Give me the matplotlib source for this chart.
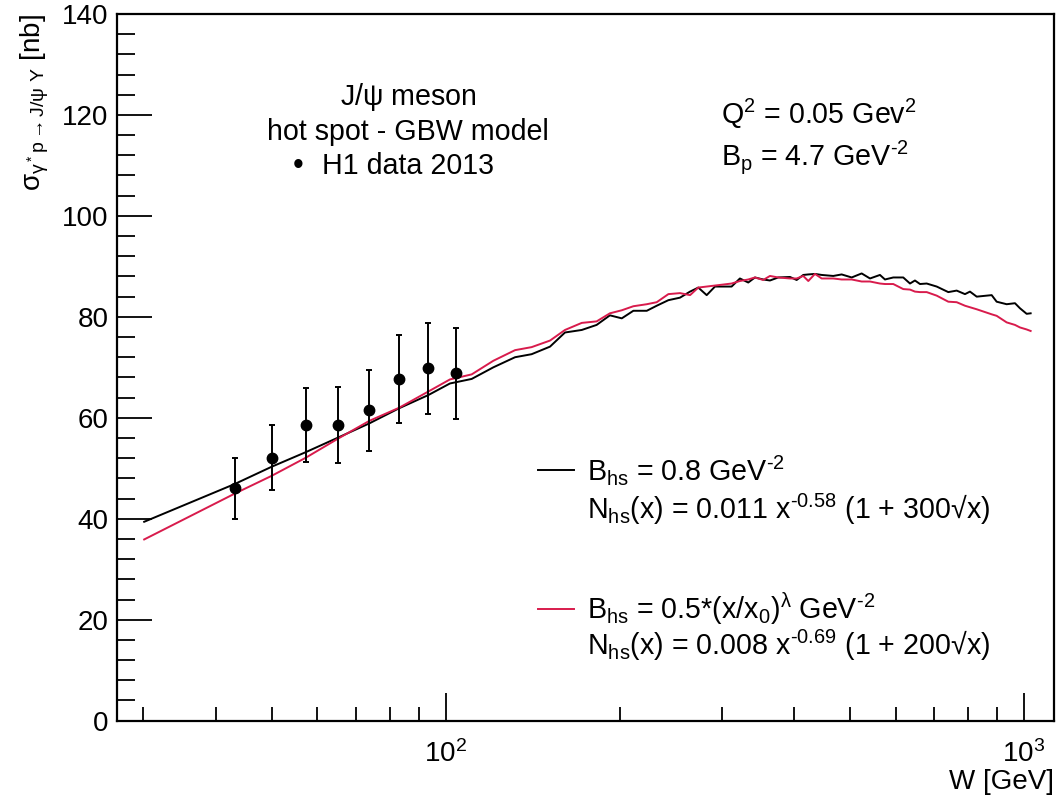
import numpy as np
import matplotlib
matplotlib.use("Agg")
import matplotlib.pyplot as plt
from matplotlib.ticker import MultipleLocator, LogLocator, NullFormatter

plt.rcParams['font.family'] = ['Liberation Sans', 'DejaVu Sans']
plt.rcParams['mathtext.fontset'] = 'custom'
plt.rcParams['mathtext.rm'] = 'Liberation Sans'
plt.rcParams['mathtext.it'] = 'Liberation Sans'
plt.rcParams['mathtext.bf'] = 'Liberation Sans:bold'
plt.rcParams['mathtext.sf'] = 'Liberation Sans'

# ---- data ----
h1_W = [43.2, 50.0, 57.3, 65.2, 73.8, 83.1, 93.3, 104.2]
h1_sigma = [46.0, 52.1, 58.6, 58.6, 61.5, 67.7, 69.8, 68.8]
h1_err_up = [6.0, 6.5, 7.4, 7.6, 8.0, 8.7, 9.0, 9.0]
h1_err_dn = [6.0, 6.5, 7.4, 7.5, 8.0, 8.7, 9.0, 9.0]

model_W = [30.1, 43.2, 50.0, 57.3, 65.2, 73.8, 83.1, 93.3, 101.7, 110.9,
           120.9, 131.8, 140.8, 151.5, 160.8, 171.9, 182.4, 192.3, 201.6, 211.1,
           222.7, 231.7, 242.7, 254.2, 264.6, 273.4, 282.7, 292.2, 312.2, 322.7,
           333.6, 342.6, 354.1, 363.7, 375.9, 393.9, 404.5, 415.3, 423.7, 435.1,
           446.9, 468.0, 483.9, 503.6, 524.0, 541.7, 563.6, 575.0, 594.3, 618.4,
           635.2, 647.9, 661.0, 678.9, 706.5, 739.9, 765.0, 790.7, 806.6, 828.5,
           879.4, 897.0, 933.5, 964.9, 984.2, 1010.8, 1027.0]
sigma_const_B = [39.4, 46.9, 50.3, 53.2, 56.1, 58.9, 61.9, 64.5, 66.8, 67.7,
                 70.0, 72.0, 72.6, 74.1, 76.9, 77.4, 78.4, 80.3, 79.7, 81.2,
                 81.2, 82.2, 83.3, 83.8, 85.0, 85.8, 84.3, 86.0, 86.0, 87.6,
                 86.8, 87.8, 87.4, 87.2, 87.8, 87.9, 87.3, 88.3, 88.4, 88.5,
                 88.3, 88.1, 88.4, 87.8, 88.6, 87.6, 88.3, 87.4, 87.8, 87.8,
                 86.6, 87.2, 86.5, 86.6, 86.0, 84.9, 85.2, 84.5, 85.0, 84.0,
                 84.3, 83.0, 82.5, 82.7, 81.7, 80.6, 80.7]
sigma_var_B = [35.9, 45.0, 48.5, 52.1, 55.9, 59.4, 62.0, 65.2, 67.6, 68.6,
               71.3, 73.4, 74.0, 75.3, 77.4, 78.8, 79.1, 80.7, 81.3, 82.1,
               82.5, 82.9, 84.5, 84.7, 84.3, 85.8, 86.0, 86.2, 86.6, 87.1,
               87.4, 87.8, 87.3, 88.1, 87.8, 87.6, 87.6, 88.1, 87.1, 88.5,
               87.6, 87.6, 87.4, 87.4, 87.0, 87.0, 86.6, 86.5, 86.5, 85.5,
               85.4, 85.0, 84.9, 84.9, 84.2, 83.0, 82.9, 82.2, 81.9, 81.5,
               80.5, 80.2, 78.9, 78.4, 77.9, 77.5, 77.2]

RED = '#d81b4c'
HY = '\u2010'  # hyphen used by the original for negative exponents
FS = 20.6

fig = plt.figure(figsize=(10.58, 7.98), dpi=100)
ax = fig.add_axes([0.1103, 0.0969, 0.9962 - 0.1103, 0.9825 - 0.0969])

l1, = ax.plot(model_W, sigma_const_B, color='black', lw=1.4)
l2, = ax.plot(model_W, sigma_var_B, color=RED, lw=1.4)
ax.errorbar(h1_W, h1_sigma, yerr=[h1_err_dn, h1_err_up], fmt='o', color='black',
            ms=7.5, elinewidth=1.4, capsize=2.5, capthick=1.4)

ax.set_xscale('log')
ax.set_xlim(26.98, 1127)
ax.set_ylim(0, 140)

for s in ax.spines.values():
    s.set_linewidth(1.6)

ax.yaxis.set_major_locator(MultipleLocator(20))
ax.yaxis.set_minor_locator(MultipleLocator(4))
ax.xaxis.set_major_locator(LogLocator(base=10, numticks=10))
ax.xaxis.set_minor_locator(LogLocator(base=10, subs=np.arange(2, 10), numticks=20))
ax.xaxis.set_minor_formatter(NullFormatter())
ax.tick_params(axis='both', which='both', direction='in', top=False, right=False,
               labelsize=20, width=1.3)
ax.tick_params(axis='y', which='major', length=25, pad=6)
ax.tick_params(axis='y', which='minor', length=13)
ax.tick_params(axis='x', which='major', length=20, pad=14)
ax.tick_params(axis='x', which='minor', length=10)

ax.set_xlabel('W [GeV]', fontsize=20, loc='right', labelpad=1)
ax.set_ylabel(r'$\sigma_{\gamma^* p \rightarrow J/\psi\ Y}$ [nb]', fontsize=20,
              loc='top', labelpad=8)

# annotations
ax.text(0.3108, 0.8818, r'J/$\psi$ meson', transform=ax.transAxes, fontsize=FS,
        ha='center', va='center')
ax.text(0.3108, 0.833, 'hot spot - GBW model', transform=ax.transAxes, fontsize=FS,
        ha='center', va='center')
ax.text(0.1934, 0.785, '\u2022', transform=ax.transAxes, fontsize=22,
        ha='center', va='center')
ax.text(0.2191, 0.785, 'H1 data 2013', transform=ax.transAxes, fontsize=FS,
        ha='left', va='center')

ax.text(0.645, 0.858, r'Q$^{2}$ = 0.05 Gev$^{2}$', transform=ax.transAxes,
        fontsize=FS, ha='left', va='center')
ax.text(0.645, 0.797, r'B$_{p}$ = 4.7 GeV$^{' + HY + r'2}$', transform=ax.transAxes,
        fontsize=FS, ha='left', va='center')

leg = ax.legend([l1, l2],
                [r'B$_{hs}$ = 0.8 GeV$^{' + HY + r'2}$',
                 r'B$_{hs}$ = 0.5*(x/x$_{0}$)$^{\lambda}$ GeV$^{' + HY + r'2}$'],
                loc='upper left', bbox_to_anchor=(0.4495, 0.379), frameon=False,
                fontsize=FS, handlelength=1.25, handletextpad=0.45,
                labelspacing=3.62, borderpad=0, borderaxespad=0)

ax.text(0.5018, 0.2996, r'N$_{hs}$(x) = 0.011 x$^{' + HY + r'0.58}$ (1 + 300√x)',
        transform=ax.transAxes, fontsize=FS, ha='left', va='center')
ax.text(0.5018, 0.107, r'N$_{hs}$(x) = 0.008 x$^{' + HY + r'0.69}$ (1 + 200√x)',
        transform=ax.transAxes, fontsize=FS, ha='left', va='center')

fig.savefig('out.png', dpi=100)
